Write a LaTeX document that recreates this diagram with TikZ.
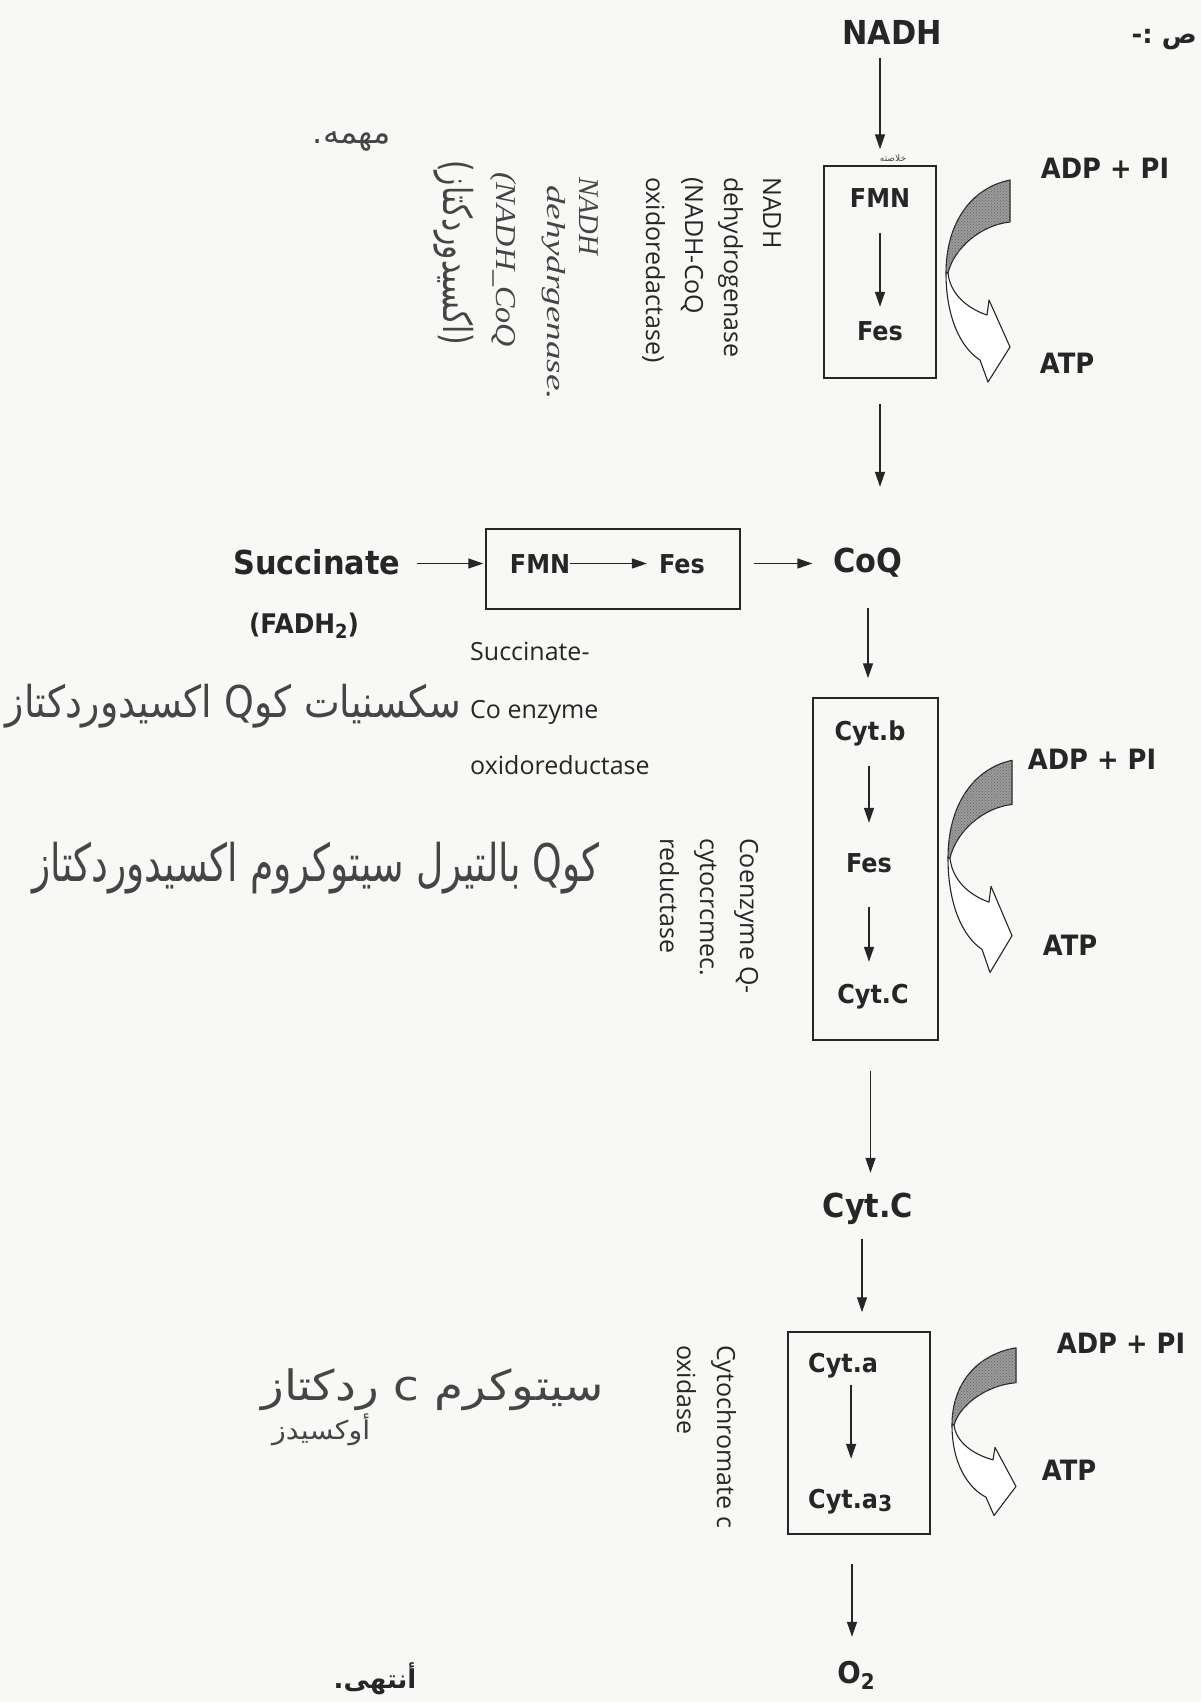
\documentclass[tikz,border=0pt]{standalone}
\usepackage{fontspec}
\usetikzlibrary{arrows.meta,patterns}
\TeXXeTstate=1
\newfontfamily\bfont[FakeStretch=0.92,UprightFont={* Bold}]{DejaVu Sans}
\newfontfamily\lfont{Open Sans}
\newfontfamily\hfont{Liberation Serif}
\newfontfamily\afont[Script=Arabic]{DejaVu Sans}
\newfontfamily\abfont[Script=Arabic]{DejaVu Sans Bold}
\definecolor{ink}{HTML}{262626}
\definecolor{hand}{HTML}{454545}
\definecolor{paper}{HTML}{F8F9F6}
\definecolor{shade}{HTML}{9A9A9A}
\newcommand\sbs[1]{\raisebox{-0.22em}{\scalebox{0.72}{#1}}}
\newcommand\atparrow[3]{%
 \begin{scope}[shift={(#1,#2)}, yscale=#3]
  \draw[curv, fill=shade, postaction={pattern=crosshatch dots, pattern color=black!60}] (64,-93) -- (64,-51) .. controls (35,-48) and (8,-25) .. (2,0) -- (0,0) .. controls (0,-50) and (25,-85) .. (64,-93) -- cycle;
  \draw[curv, fill=white] (0,0) .. controls (0,45) and (15,75) .. (34,87) -- (42,109) -- (64,74) -- (43,27) -- (41,42) .. controls (20,35) and (4,20) .. (2,0) -- cycle;
 \end{scope}}
\tikzset{
 arr/.style={draw=ink, line width=1.4pt, -{Triangle[length=15pt,width=10pt]}},
 box/.style={draw=ink, line width=1.5pt, inner sep=0pt},
 bigt/.style={font=\bfont\fontsize{33}{38}\selectfont, text=ink, inner sep=0pt, text height=24pt, text depth=0pt, anchor=base},
 boxt/.style={font=\bfont\fontsize{26}{30}\selectfont, text=ink, inner sep=0pt, text height=19pt, text depth=0pt, anchor=base},
 atpt/.style={font=\bfont\fontsize{28}{32}\selectfont, text=ink, inner sep=0pt, text height=20pt, text depth=0pt, anchor=base},
 lt/.style={font=\lfont\fontsize{25}{30}\selectfont, text=ink, inner sep=0pt},
 rot/.style={lt, rotate=-90, anchor=base west},
 hw/.style={text=hand, inner sep=0pt},
 curv/.style={draw=ink, line width=1.1pt, line join=round},
}
\begin{document}
\begin{tikzpicture}[x=1pt,y=-1pt]
\fill[paper] (0,0) rectangle (1201,1702);
\useasboundingbox (0,0) rectangle (1201,1702);

% ---- top block
\node[bigt] (nadh) at (892,45) {NADH};
\node[box, minimum width=112pt, minimum height=212pt] (box1) at (880,272) {};
\node[boxt] (fmn1) at (880,207) {FMN};
\node[boxt] (fes1) at (880,340) {Fes};
\draw[arr, shorten <=13pt, shorten >=16pt] (box1.north |- nadh.south) -- (box1.north);
\draw[arr, shorten <=26pt, shorten >=14pt] (fmn1.south) -- (fes1.north);
\atparrow{946}{273}{1}
\node[atpt] (adp1) at (1105,178) {ADP + PI};
\node[atpt] (atp1) at (1067,373) {ATP};
\node[rot] (r1a) at (763,177) {NADH};
\node[rot] (r1b) at (724,177) {dehydrogenase};
\node[rot] (r1c) at (685,177) {(NADH-CoQ};
\node[rot] (r1d) at (646,177) {oxidoredactase)};

% ---- succinate
\node[bigt] (succ) at (317,574) {Succinate};
\node[atpt, font=\bfont\fontsize{27}{30}\selectfont] (fadh) at (304,633) {(FADH\sbs{2})};
\node[box, minimum width=254pt, minimum height=80pt] (sbox) at (613,569) {};
\node[boxt] (sfmn) at (540,573) {FMN};
\node[boxt] (sfes) at (682,573) {Fes};
\node[bigt] (coq) at (868,572) {CoQ};
\draw[arr, shorten <=16pt, shorten >=2pt] (succ.east |- sfmn) -- (sbox.west |- sfmn);
\draw[arr, shorten >=12pt] (sfmn.east) -- (sfes.west);
\draw[arr, shorten <=13pt, shorten >=21pt] (sbox.east |- sfmn) -- (coq.west |- sfmn);
\draw[arr, shorten <=25pt, shorten >=61pt] (box1.south) -- (box1.south |- coq.north);
\node[lt, anchor=base west] (sn1) at (470,660) {Succinate-};
\node[lt, anchor=base west] (sn2) at (470,718) {Co enzyme};
\node[lt, anchor=base west] (sn3) at (470,774) {oxidoreductase};

% ---- box 2
\node[box, minimum width=125pt, minimum height=342pt] (box2) at (875.5,869) {};
\draw[arr, shorten <=36pt, shorten >=19pt] (coq.south) -- (coq.south |- box2.north);
\node[boxt] (cytb) at (870,740) {Cyt.b};
\node[boxt] (fes2) at (869,872) {Fes};
\node[boxt] (cytc2) at (873,1003) {Cyt.C};
\draw[arr, shorten <=26pt, shorten >=30pt] (fes2.north |- cytb.south) -- (fes2.north);
\draw[arr, shorten <=35pt, shorten >=22pt] (fes2.south) -- (fes2.south |- cytc2.north);
\atparrow{948}{858}{1.05}
\node[atpt] (adp2) at (1092,769) {ADP + PI};
\node[atpt] (atp2) at (1070,955) {ATP};
\node[rot] (r2a) at (740,838) {Coenzyme Q-};
\node[rot] (r2b) at (700,838) {cytocrcmec.};
\node[rot] (r2c) at (660,838) {reductase};

% ---- cyt c and box 3
\node[bigt] (cytc) at (868,1217) {Cyt.C};
\draw[arr, shorten <=30pt, shorten >=20pt] ([xshift=-5pt]box2.south) -- ([xshift=-5pt]box2.south |- cytc.north);
\node[box, minimum width=142pt, minimum height=202pt] (box3) at (859,1433) {};
\draw[arr, shorten <=22pt, shorten >=19pt] ([xshift=3pt]box3.north |- cytc.south) -- ([xshift=3pt]box3.north);
\node[boxt, anchor=base west] (cyta) at (808,1372) {Cyt.a};
\node[boxt, anchor=base west] (cyta3) at (808,1508) {Cyt.a\raisebox{-0.15em}{\scalebox{0.85}{3}}};
\draw[arr, shorten <=13pt, shorten >=30pt] ([xshift=8pt]cyta.south) -- ([xshift=8pt]cyta.south |- cyta3.north);
\atparrow{952}{1425}{0.83}
\node[atpt] (adp3) at (1121,1353) {ADP + PI};
\node[atpt] (atp3) at (1069,1480) {ATP};
\node[rot] (r3a) at (717,1345) {Cytochromate c};
\node[rot] (r3b) at (677,1345) {oxidase};
\node[bigt, font=\bfont\fontsize{30}{34}\selectfont] (o2) at (856,1683) {O\sbs{2}};
\draw[arr, shorten <=29pt, shorten >=22pt] ([xshift=-7pt]box3.south) -- ([xshift=-7pt]box3.south |- o2.north);

% ---- handwritten notes and Arabic text
\node[hw, rotate=-90, anchor=base west] (hn1) at (579,177) {\resizebox{78pt}{!}{\hfont\itshape NADH}};
\node[hw, rotate=-90, anchor=base west] (hn2) at (547,185) {\resizebox{215pt}{18pt}{\hfont\itshape dehydrgenase.}};
\node[hw, rotate=-90, anchor=base west] (hn3) at (496,172) {\resizebox{175pt}{20pt}{\hfont\itshape (NADH\_CoQ}};
\node[hw, rotate=-90, anchor=west] (hn4) at (454,160) {\resizebox*{185pt}{40pt}{\afont\beginR(اكسيدوردكتاز)\endR}};
\node[hw] (hs) at (352,142) {\resizebox{78pt}{!}{\afont\beginR مهمه.\endR}};
\node[hw, anchor=east] (h1) at (461,706) {\resizebox*{455pt}{44pt}{\afont\beginR سكسنيات كوQ اكسيدوردكتاز\endR}};
\node[hw, anchor=east] (h2) at (600,868) {\resizebox*{567pt}{52pt}{\afont\beginR كوQ بالتيرل سيتوكروم اكسيدوردكتاز\endR}};
\node[hw, anchor=east] (h3a) at (604,1390) {\resizebox*{342pt}{42pt}{\afont\beginR سيتوكرم c ردكتاز\endR}};
\node[hw, anchor=west] (h3b) at (272,1430) {\resizebox*{98pt}{32pt}{\afont\beginR أوكسيدز\endR}};
\node[hw, font=\afont\fontsize{9}{10}\selectfont] (tiny) at (893,158) {\beginR خلاصته\endR};
\node[inner sep=0pt, anchor=base, font=\abfont\fontsize{26}{30}\selectfont, text=ink] (endw) at (375,1688) {\beginR أنتهى.\endR};
\node[inner sep=0pt, anchor=base east, font=\abfont\fontsize{26}{30}\selectfont, text=ink] (topw) at (1197,44) {\beginR ص :-\endR};
\end{tikzpicture}
\end{document}
